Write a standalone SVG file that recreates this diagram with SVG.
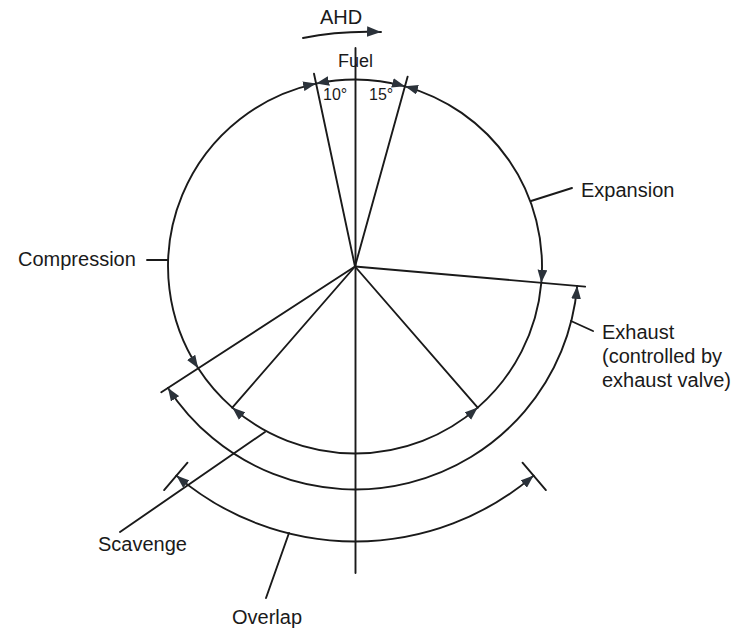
<svg xmlns="http://www.w3.org/2000/svg" width="742" height="629" viewBox="0 0 742 629">
<style>
.ln{fill:none;stroke:#1a1a1a;stroke-width:1.9;stroke-linecap:round}
.ar{marker-start:url(#ah);marker-end:url(#ah)}
.t{font-family:"Liberation Sans",Arial,sans-serif;font-size:20px;fill:#1a1a1a}
.s{font-size:16px}
</style>
<defs>
<marker id="ah" viewBox="0 0 12 9" refX="12" refY="4.5" markerWidth="13" markerHeight="10" markerUnits="userSpaceOnUse" orient="auto-start-reverse">
<path d="M0,0 L12,4.5 L0,9 z" fill="#2b323a"/>
</marker>
<marker id="ahe" viewBox="0 0 12 9" refX="12" refY="4.5" markerWidth="14" markerHeight="10.5" markerUnits="userSpaceOnUse" orient="auto">
<path d="M0,0 L12,4.5 L0,9 z" fill="#2b323a"/>
</marker>
</defs>
<rect width="742" height="629" fill="#ffffff"/>
<g id="connectors">
<line class="ln" x1="355.5" y1="48" x2="355.5" y2="573"/>
<line class="ln" x1="355" y1="266.5" x2="314" y2="73.8"/>
<line class="ln" x1="355" y1="266.5" x2="407.6" y2="76.7"/>
<line class="ln" x1="355" y1="266.5" x2="585.1" y2="286.6"/>
<line class="ln" x1="355" y1="266.5" x2="161.3" y2="392.3"/>
<line class="ln" x1="355" y1="266.5" x2="477.7" y2="407.6"/>
<line class="ln" x1="355" y1="266.5" x2="232.3" y2="407.6"/>
<path id="compression-arc" class="ln ar" d="M198.2,368.3 A187,187 0 0 1 316.1,83.6"/>
<path id="fuel-arc" class="ln ar" d="M316.1,83.6 A187,187 0 0 1 405,86.3"/>
<path id="expansion-arc" class="ln ar" d="M405,86.3 A187,187 0 0 1 541.3,282.8"/>
<path class="ln" d="M541.3,282.8 A187,187 0 0 1 477.7,407.6"/>
<path id="scavenge-arc" class="ln ar" d="M477.7,407.6 A187,187 0 0 1 232.3,407.6"/>
<path class="ln" d="M232.3,407.6 A187,187 0 0 1 198.2,368.3"/>
<path id="exhaust-arc" class="ln ar" d="M577.2,285.9 A223,223 0 0 1 168,387.9"/>
<path id="overlap-arc" class="ln ar" d="M533.6,475.6 A275,275 0 0 1 176.4,475.6"/>
<line class="ln" x1="522.5" y1="462.7" x2="545.9" y2="490.1"/>
<line class="ln" x1="187.5" y1="462.7" x2="164.1" y2="490.1"/>
<path class="ln" d="M303,38 Q340,30.5 381,32" marker-end="url(#ahe)"/>
<line class="ln" x1="147" y1="260" x2="168" y2="260"/>
<line class="ln" x1="531" y1="201" x2="572" y2="188"/>
<line class="ln" x1="571" y1="321" x2="593" y2="331"/>
<line class="ln" x1="120" y1="532" x2="265" y2="432"/>
<line class="ln" x1="289" y1="533" x2="266" y2="598"/>
</g>
<g id="ahd"><text class="t" x="320" y="24">AHD</text></g>
<g id="fuel"><text class="t" x="338" y="67" style="font-size:18px">Fuel</text></g>
<g id="deg10"><text class="t s" x="323" y="100">10°</text></g>
<g id="deg15"><text class="t s" x="369" y="100">15°</text></g>
<g id="compression"><text class="t" x="18" y="266">Compression</text></g>
<g id="expansion"><text class="t" x="581" y="197">Expansion</text></g>
<g id="exhaust"><text class="t" x="602" y="339">Exhaust</text><text class="t" x="602" y="363">(controlled by</text><text class="t" x="602" y="387">exhaust valve)</text></g>
<g id="scavenge"><text class="t" x="98" y="551">Scavenge</text></g>
<g id="overlap"><text class="t" x="232" y="624">Overlap</text></g>
</svg>
